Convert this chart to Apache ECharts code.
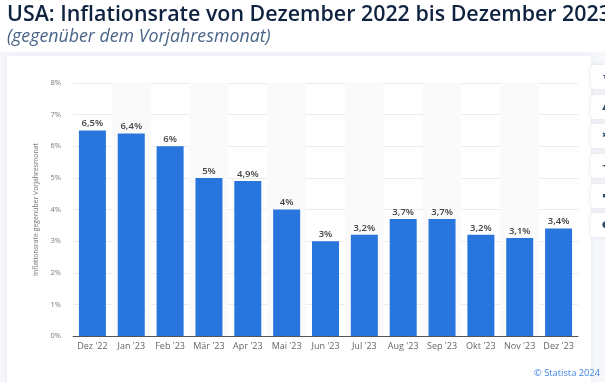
<!DOCTYPE html>
<html><head><meta charset="utf-8">
<style>html,body{margin:0;padding:0;background:#fff}#c{width:605px;height:382px}</style>
<script src="https://cdn.jsdelivr.net/npm/echarts@6/dist/echarts.min.js"></script></head>
<body><div id="c"></div>
<script>
const categories = ["Dez '22","Jan '23","Feb '23","Mär '23","Apr '23","Mai '23","Jun '23","Jul '23","Aug '23","Sep '23","Okt '23","Nov '23","Dez '23"];
const values = [6.5,6.4,6,5,4.9,4,3,3.2,3.7,3.7,3.2,3.1,3.4];
const valueLabels = ["6,5%","6,4%","6%","5%","4,9%","4%","3%","3,2%","3,7%","3,7%","3,2%","3,1%","3,4%"];
const titleText = "USA: Inflationsrate von Dezember 2022 bis Dezember 2023";
const subtitleText = "(gegenüber dem Vorjahresmonat)";
const yAxisName = "Inflationsrate gegenüber Vorjahresmonat";
const sourceText = "© Statista 2024";
const buttonTops = [65,95,124,154,184,213];
const buttonGlyphs = ["★","▲","✱","◄","▬","●"];

const chart = echarts.init(document.getElementById('c'), null, {renderer:'canvas'});
const graphics = [
  {type:'rect',z:-10,silent:true,shape:{x:0,y:52,width:605,height:330},style:{fill:'#f6f7fb'}},
  {type:'rect',z:-9,silent:true,shape:{x:7,y:56,width:584,height:340,r:3},style:{fill:'#fff',shadowBlur:6,shadowColor:'rgba(60,70,110,0.08)'}}
];
buttonTops.forEach((t,i)=>{
  graphics.push({type:'rect',z:-8,silent:true,shape:{x:591,y:t,width:24,height:24,r:3},style:{fill:'#fff',shadowBlur:5,shadowColor:'rgba(60,70,110,0.12)'}});
  graphics.push({type:'text',z:-7,silent:true,x:602,y:t+7,style:{text:buttonGlyphs[i],fill:'#33496b',font:'9px "DejaVu Sans"'}});
});
chart.setOption({
  animation:false,
  backgroundColor:'#fff',
  title:[
    {text:titleText,left:2,top:-1,textStyle:{fontFamily:'"Open Sans"',fontSize:21.4,fontWeight:600,color:'#0f2240'}},
    {text:subtitleText,left:2,top:23,textStyle:{fontFamily:'"Open Sans"',fontSize:17.8,fontStyle:'italic',fontWeight:400,color:'#4a6488'}},
    {text:sourceText,right:0,top:364,textStyle:{fontFamily:'"Open Sans"',fontSize:9.3,fontWeight:400,color:'#3f84e0'}}
  ],
  graphic:graphics,
  grid:{left:73,top:83,width:505,height:253},
  xAxis:{type:'category',data:categories,
    axisLine:{lineStyle:{color:'#555',width:1}},axisTick:{show:false},
    axisLabel:{interval:0,margin:6,fontFamily:'"Open Sans"',fontSize:9,color:'#666'},
    splitArea:{show:true,areaStyle:{color:['rgba(255,255,255,0)','#fafafa']}},splitLine:{show:false}},
  yAxis:{type:'value',min:0,max:8,interval:1,
    name:yAxisName,nameLocation:'middle',nameRotate:90,nameGap:27,
    nameTextStyle:{fontFamily:'"Open Sans"',fontSize:6.9,color:'#777'},
    axisLine:{show:false},axisTick:{show:false},
    axisLabel:{formatter:'{value}%',margin:12,fontFamily:'"Open Sans"',fontSize:7.5,color:'#777'},
    splitLine:{lineStyle:{color:'#ececec',width:1}}},
  series:[{type:'bar',data:values,barWidth:27,
    itemStyle:{color:'#2875de'},
    label:{show:true,position:'top',distance:2,formatter:p=>valueLabels[p.dataIndex],
      fontFamily:'"Open Sans"',fontSize:9.5,fontWeight:600,color:'#444'}}]
});
</script></body></html>
